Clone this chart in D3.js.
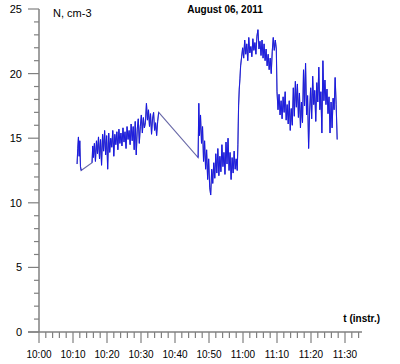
<!DOCTYPE html>
<html>
<head>
<meta charset="utf-8">
<script src="https://cdn.jsdelivr.net/npm/d3@7"></script>
<style>
  body { margin: 0; background: #fff; }
  svg text { font-family: "Liberation Sans", Arial, sans-serif; }
</style>
</head>
<body>
<div id="chart"></div>
<script>
// minutes after 10:00 and concentration N (cm-3)
var times = [
  11.2, 11.4, 11.6, 11.8, 12.0, 12.2, 12.4,
  15.6, 15.8, 16.0, 16.3, 16.6, 16.9, 17.2, 17.5, 17.8, 18.1, 18.4, 18.7, 19.0, 19.3, 19.6, 19.9,
  20.2, 20.5, 20.8, 21.1, 21.4, 21.7, 22.0, 22.3, 22.6, 22.9, 23.2, 23.5, 23.8, 24.1, 24.4, 24.7,
  25.0, 25.3, 25.6, 25.9, 26.2, 26.5, 26.8, 27.1, 27.4, 27.7, 28.0, 28.3, 28.6, 28.9, 29.2, 29.5,
  29.8, 30.1, 30.4, 30.7, 31.0, 31.3, 31.6, 31.9, 32.2, 32.5, 32.8, 33.1, 33.4, 33.7, 34.0, 34.3,
  34.6, 34.9, 35.2,
  46.8, 47.0, 47.2, 47.5, 47.8, 48.1, 48.4, 48.7, 49.0, 49.3, 49.6, 49.9, 50.2, 50.5, 50.8, 51.1,
  51.4, 51.7, 52.0, 52.3, 52.6, 52.9, 53.2, 53.5, 53.8, 54.1, 54.4, 54.7, 55.0, 55.3, 55.6, 55.9,
  56.2, 56.5, 56.8, 57.1, 57.4, 57.7, 58.0, 58.3,
  58.5, 58.7, 58.9, 59.1, 59.3, 59.6, 59.9, 60.2, 60.5, 60.8, 61.1, 61.4, 61.7, 62.0, 62.3, 62.6,
  62.9, 63.2, 63.5, 63.8, 64.1, 64.4, 64.7, 65.0, 65.3, 65.6, 65.9, 66.2, 66.5, 66.8, 67.1, 67.4,
  67.7, 68.0, 68.3, 68.6, 68.9, 69.2, 69.5, 69.8,
  70.0, 70.3, 70.6, 70.9, 71.2, 71.5, 71.8, 72.1, 72.4, 72.7, 73.0, 73.3, 73.6, 73.9, 74.2, 74.5,
  74.8, 75.1, 75.4, 75.7, 76.0, 76.3, 76.6, 76.9, 77.2, 77.5, 77.8, 78.1, 78.4, 78.7, 79.0, 79.3,
  79.6, 79.9, 80.2, 80.5, 80.8, 81.1, 81.4, 81.7, 82.0, 82.3, 82.6, 82.9, 83.2, 83.5, 83.8, 84.1,
  84.4, 84.7, 85.0, 85.3, 85.6, 85.9, 86.2, 86.5, 86.8, 87.1, 87.4, 87.7
];
var values = [
  13.0, 14.2, 15.1, 13.6, 14.8, 12.8, 12.5,
  13.1, 14.4, 13.5, 14.6, 13.2, 14.8, 13.8, 15.1, 13.4, 14.9, 12.9, 15.3, 14.0, 15.6, 13.7, 15.2,
  12.6, 15.4, 13.9, 15.0, 14.3, 15.6, 13.6, 15.3, 14.5, 15.5, 14.1, 15.7, 14.6, 15.4, 14.4, 15.8,
  14.7, 15.5, 14.2, 15.9, 14.9, 15.6, 14.5, 16.1, 14.8, 15.9, 14.1, 16.3, 13.7, 15.7, 16.5, 14.6,
  15.9, 16.8, 15.4, 16.6, 15.8, 16.2, 17.7, 16.4, 17.2, 15.9, 16.9, 15.3, 16.5, 17.0, 15.6, 16.2,
  15.2, 16.3, 17.0,
  13.5, 17.7, 15.2, 16.8, 14.6, 15.9, 13.2, 14.8, 12.6, 14.1, 11.8, 13.4, 11.2, 10.6, 12.6, 11.5,
  13.1, 11.9, 13.8, 12.3, 14.2, 12.1, 13.6, 12.4, 14.5, 12.8, 13.9, 12.2, 14.7, 13.0, 15.0, 12.5,
  13.9, 11.8, 13.5, 12.3, 14.0, 12.6, 13.4, 12.5,
  14.5, 17.5, 18.8, 19.6, 20.6, 21.3, 22.0, 21.2, 22.6, 21.5, 22.3, 21.0, 22.8, 21.6, 22.1, 21.3,
  22.7, 21.8, 22.4, 21.5, 22.9, 23.4, 21.9, 22.5, 21.4, 22.6, 21.2, 22.3, 21.0, 21.9, 20.6, 21.5,
  20.3, 21.2, 20.0, 21.7, 22.8, 21.8, 22.6, 21.9,
  18.6, 17.2, 18.4, 16.8, 17.9, 16.5, 18.2, 17.0, 18.6, 16.4, 17.6, 16.1, 17.9, 15.6, 17.3, 16.0,
  18.9, 16.7, 19.4, 17.4, 19.2, 16.6, 18.5, 15.8, 17.8, 16.2, 20.3, 17.5, 20.8, 16.8, 18.3, 14.2,
  17.1, 18.9, 16.5, 19.8, 17.6, 18.7, 16.3, 19.3, 17.8, 20.5, 17.2, 18.6, 15.4, 21.0, 17.9, 19.5,
  17.6, 18.8, 16.9, 18.2, 15.4, 17.8, 15.8, 18.1, 17.2, 19.7, 17.6, 14.9
];
var yTickLabels = ["0", "5", "10", "15", "20", "25"];
var xTickLabels = ["10:00", "10:10", "10:20", "10:30", "10:40", "10:50", "11:00", "11:10", "11:20", "11:30"];

var width = 400,
    height = 364;

var svg = d3.select("#chart")
  .append("svg")
    .attr("width", width)
    .attr("height", height);

var x = d3.scaleLinear().domain([0, 95]).range([39, 362]);
var y = d3.scaleLinear().domain([0, 25]).range([332, 9]);

var axisColor = "#808080";
var points = times.map(function(t, i) { return { t: t, v: values[i] }; });

// data line: grey-blue through every point, blue over the dense stretches
var line = d3.line()
  .x(function(d) { return x(d.t); })
  .y(function(d) { return y(d.v); });

svg.append("path")
  .datum(points)
  .attr("fill", "none")
  .attr("stroke", "#6a6aa8")
  .attr("stroke-width", 1.1)
  .attr("d", line);

// split into runs so that gaps are not drawn in blue
var runs = [], cur = [];
points.forEach(function(d, i) {
  if (i > 0 && d.t - points[i - 1].t > 2) { runs.push(cur); cur = []; }
  cur.push(d);
});
runs.push(cur);

svg.selectAll(".run")
  .data(runs)
  .enter()
  .append("path")
    .attr("class", "run")
    .attr("fill", "none")
    .attr("stroke", "#1414e6")
    .attr("stroke-width", 0.9)
    .attr("d", line);

// y axis
var yAxis = svg.append("g");
yAxis.append("line")
  .attr("x1", 39).attr("x2", 39)
  .attr("y1", y(25)).attr("y2", y(0))
  .attr("stroke", axisColor).attr("stroke-width", 1.5);

yAxis.selectAll(".ytick")
  .data(d3.range(0, 26))
  .enter()
  .append("line")
    .attr("x1", function(d) { return d % 5 == 0 ? 28 : 34; })
    .attr("x2", 39)
    .attr("y1", function(d) { return y(d); })
    .attr("y2", function(d) { return y(d); })
    .attr("stroke", axisColor)
    .attr("stroke-width", 1.2);

yAxis.selectAll(".ylab")
  .data(yTickLabels)
  .enter()
  .append("text")
    .attr("x", 22)
    .attr("y", function(d) { return y(+d) + 4; })
    .attr("text-anchor", "end")
    .attr("font-size", "11px")
    .attr("fill", "#000")
    .text(function(d) { return d; });

// x axis
var xAxis = svg.append("g");
xAxis.append("line")
  .attr("x1", 28).attr("x2", x(95))
  .attr("y1", y(0)).attr("y2", y(0))
  .attr("stroke", axisColor).attr("stroke-width", 1.5);

xAxis.selectAll(".xtick")
  .data(d3.range(0, 96, 2))
  .enter()
  .append("line")
    .attr("x1", function(d) { return x(d); })
    .attr("x2", function(d) { return x(d); })
    .attr("y1", y(0))
    .attr("y2", function(d) { return d % 10 == 0 ? y(0) + 11 : y(0) + 6; })
    .attr("stroke", axisColor)
    .attr("stroke-width", 1.2);

xAxis.selectAll(".xlab")
  .data(xTickLabels)
  .enter()
  .append("text")
    .attr("x", function(d, i) { return x(i * 10); })
    .attr("y", 358)
    .attr("text-anchor", "middle")
    .attr("font-size", "10px")
    .attr("fill", "#000")
    .text(function(d) { return d; });

// titles
svg.append("text")
  .attr("x", 225).attr("y", 13)
  .attr("text-anchor", "middle")
  .attr("font-size", "10px")
  .attr("font-weight", "bold")
  .text("August 06, 2011");

svg.append("text")
  .attr("x", 53).attr("y", 17)
  .attr("font-size", "11px")
  .text("N, cm-3");

svg.append("text")
  .attr("x", 380).attr("y", 322)
  .attr("text-anchor", "end")
  .attr("font-size", "10px")
  .attr("font-weight", "bold")
  .text("t (instr.)");
</script>
</body>
</html>
